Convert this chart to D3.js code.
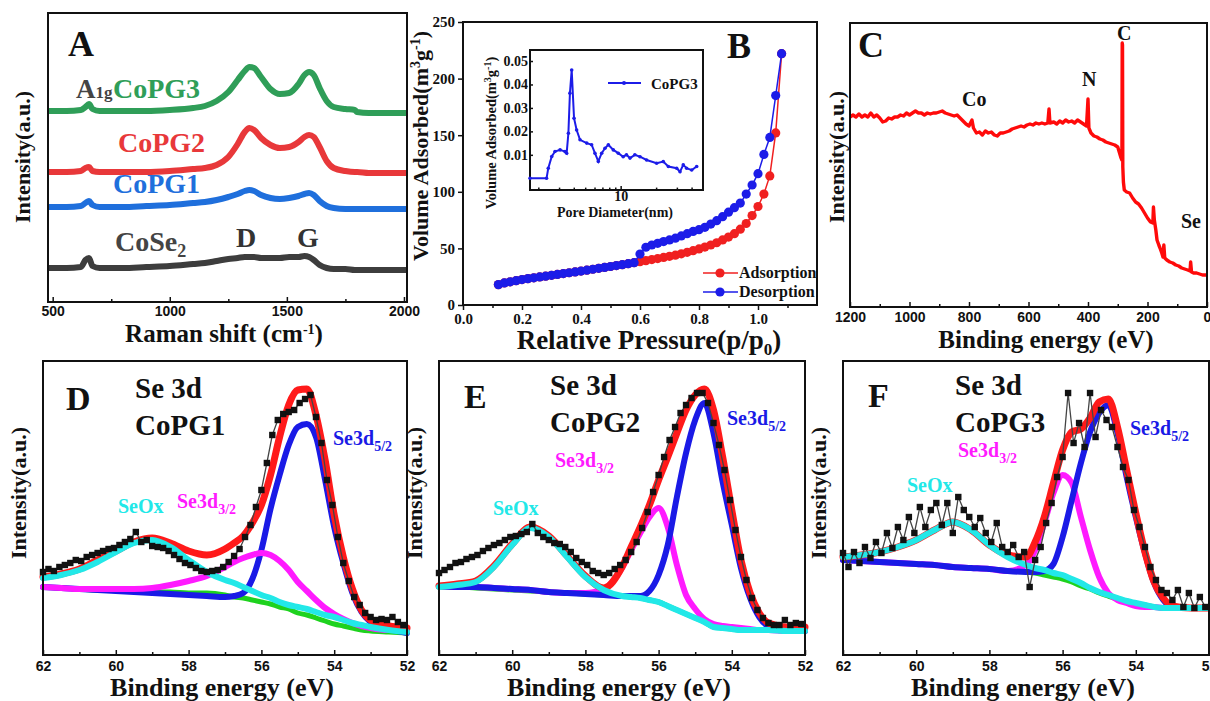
<!DOCTYPE html>
<html>
<head>
<meta charset="utf-8">
<script src="https://cdn.jsdelivr.net/npm/d3@7"></script>
<style>
  body { margin: 0; background: #fff; }
  svg { display: block; }
</style>
</head>
<body>
<script>
///// DATA /////

// A: Raman spectra (stacked, a.u.)
const ramanShift = [480, 560, 620, 640, 655, 670, 700, 800, 900, 1000, 1100, 1150, 1200, 1250, 1290, 1320, 1340, 1360, 1390, 1430, 1470, 1510, 1550, 1575, 1595, 1615, 1640, 1670, 1700, 1750, 1790, 1800, 1850, 1900, 2013]
const ramanCoPG3 = [191, 191, 192, 195, 198, 193, 191, 191, 191, 192, 194, 196, 201, 210, 222, 231, 235, 234, 225, 213, 208, 209, 218, 227, 230, 227, 214, 201, 195, 193, 192, 190, 189, 189, 189]
const ramanCoPG2 = [130, 130, 131, 134, 135, 131, 130, 130, 130, 131, 133, 134, 137, 145, 158, 170, 174, 172, 164, 157, 154, 155, 160, 165, 167, 165, 155, 141, 134, 131, 130, 130, 129, 129, 129]
const ramanCoPG1 = [95, 95, 96, 99, 101, 97, 95, 95, 96, 97, 99, 100, 102, 105, 108, 111, 112, 111, 107, 104, 103, 104, 106, 108, 109, 107, 101, 96, 94, 93, 93, 93, 93, 93, 93]
const ramanCoSe2 = [34, 34, 35, 42, 44, 36, 34, 34, 35, 36, 38, 39, 41, 43, 44, 45, 45, 45, 44, 44, 44, 45, 45, 46, 45, 42, 37, 34, 33, 33, 32, 32, 32, 32, 32]
const ramanTicks = [500, 1000, 1500, 2000]

// B: N2 isotherm + pore size distribution (inset)
const pressure = [0.12, 0.14, 0.16, 0.18, 0.20, 0.22, 0.24, 0.26, 0.28, 0.30, 0.32, 0.34, 0.36, 0.38, 0.40, 0.42, 0.44, 0.46, 0.48, 0.50, 0.52, 0.54, 0.56, 0.58, 0.60, 0.62, 0.64, 0.66, 0.68, 0.70, 0.72, 0.74, 0.76, 0.78, 0.80, 0.82, 0.84, 0.86, 0.88, 0.90, 0.92, 0.94, 0.96, 0.98, 1.00, 1.02, 1.04, 1.06, 1.08]
const adsorption = [18, 19.5, 20.5, 21.5, 22.5, 23.3, 24, 24.8, 25.5, 26.2, 27, 27.8, 28.5, 29.2, 30, 30.8, 31.6, 32.4, 33.2, 34, 34.8, 35.6, 36.5, 37.4, 38.3, 39.2, 40.1, 41, 42, 43, 44, 45.2, 46.5, 48, 49.5, 51.2, 53, 55, 57.5, 60, 63, 67, 72, 79, 87, 98, 114, 152, 222]
const desorption = [18, 19.5, 20.5, 21.5, 22.5, 23.3, 24, 24.8, 25.5, 26.2, 27, 27.8, 28.5, 29.2, 30, 30.8, 31.6, 32.4, 33.2, 34, 34.8, 35.6, 36.5, 37.4, 45, 51, 53, 54.5, 56, 57.5, 59, 61, 63, 65, 66.5, 68.6, 71.5, 74.5, 78, 82, 86, 90, 98, 106, 116, 133, 148, 185, 222]
const volumeTicks = [0, 50, 100, 150, 200, 250]
const pressureTicks = [0, 0.2, 0.4, 0.6, 0.8, 1.0]
const poreDiameter = [1.70, 2.35, 2.43, 2.60, 2.77, 3.06, 3.37, 3.48, 3.60, 3.71, 3.84, 4.02, 4.23, 4.52, 5.15, 5.67, 6.05, 6.46, 6.90, 7.36, 7.86, 8.66, 9.55, 10.5, 11.2, 12.0, 13.2, 14.6, 16.6, 20.2, 23.0, 25.4, 29.9, 31.9, 34.0, 36.3, 40.1, 44.2]
const poreVolume = [0, 0, 0.0043, 0.0093, 0.0114, 0.0121, 0.0114, 0.0107, 0.0192, 0.0363, 0.0462, 0.0256, 0.0206, 0.0164, 0.015, 0.0143, 0.0107, 0.0072, 0.0107, 0.0128, 0.0143, 0.0121, 0.0107, 0.0092, 0.01, 0.0086, 0.01, 0.0092, 0.0078, 0.0064, 0.0071, 0.005, 0.0043, 0.0028, 0.0057, 0.0043, 0.0035, 0.005]
const poreTicks = [0.01, 0.02, 0.03, 0.04, 0.05]

// C: XPS survey
const surveyBE = [1200, 1190, 1180, 1170, 1160, 1150, 1140, 1130, 1120, 1110, 1100, 1090, 1080, 1070, 1060, 1050, 1040, 1030, 1020, 1010, 1000, 990, 980, 970, 960, 950, 940, 930, 920, 910, 900, 890, 880, 870, 860, 850, 840, 830, 820, 810, 800, 790, 785, 775, 765, 755, 745, 735, 725, 715, 705, 695, 685, 675, 665, 655, 645, 635, 625, 615, 605, 595, 585, 575, 565, 555, 545, 535, 531, 528, 515, 505, 495, 485, 475, 465, 455, 445, 435, 425, 415, 405, 400, 397, 390, 380, 370, 360, 350, 340, 330, 320, 310, 300, 295, 290, 286, 285, 284, 283, 281, 278, 270, 260, 250, 240, 230, 220, 210, 200, 190, 182, 180, 177, 172, 168, 162, 158, 152, 148, 145, 142, 135, 125, 115, 105, 95, 85, 75, 65, 57, 55, 52, 45, 35, 25, 15, 5, 0]
const surveyCounts = [190, 192, 190, 193, 190, 192, 190, 194, 190, 192, 189, 185, 186, 189, 188, 190, 190, 192, 191, 194, 192, 194, 196, 194, 194, 192, 194, 193, 194, 194, 195, 196, 194, 193, 192, 191, 192, 189, 186, 183, 181, 187, 179, 174, 175, 172, 176, 174, 175, 172, 171, 174, 174, 175, 176, 178, 179, 180, 181, 180, 182, 183, 182, 184, 183, 184, 183, 184, 198, 184, 185, 183, 186, 184, 187, 185, 186, 184, 187, 185, 183, 181, 208, 179, 174, 171, 170, 168, 167, 165, 164, 163, 162, 160, 155, 150, 147, 264, 262, 140, 125, 117, 115, 114, 109, 105, 103, 99, 94, 89, 85, 84, 100, 87, 77, 67, 62, 59, 54, 50, 62, 49, 47, 45, 44, 42, 41, 39, 38, 37, 36, 45, 35, 34, 34, 33, 32, 32, 32]
const surveyTicks = [1200, 1000, 800, 600, 400, 200, 0]

// D-F: Se 3d high resolution spectra and fits
const fitBE = [62, 61.5, 61, 60.5, 60, 59.5, 59, 58.5, 58, 57.5, 57, 56.75, 56.5, 56.25, 56, 55.75, 55.5, 55.25, 55, 54.75, 54.5, 54.25, 54, 53.75, 53.5, 53.25, 53, 52.5, 52]
const dataBE = [62, 61.85, 61.7, 61.55, 61.4, 61.25, 61.1, 60.95, 60.8, 60.65, 60.5, 60.35, 60.2, 60.05, 59.9, 59.75, 59.6, 59.45, 59.3, 59.15, 59, 58.85, 58.7, 58.55, 58.4, 58.25, 58.1, 57.95, 57.8, 57.65, 57.5, 57.35, 57.2, 57.05, 56.9, 56.75, 56.6, 56.45, 56.3, 56.15, 56, 55.85, 55.7, 55.55, 55.4, 55.25, 55.1, 54.95, 54.8, 54.65, 54.5, 54.35, 54.2, 54.05, 53.9, 53.75, 53.6, 53.45, 53.3, 53.15, 53, 52.85, 52.7, 52.55, 52.4, 52.25, 52.1]
const beTicks = [62, 60, 58, 56, 54, 52]

const se3dCoPG1 = [83, 86, 84, 88, 90, 92, 95, 94, 98, 100, 102, 104, 106, 107, 110, 113, 116, 123, 113, 115, 109, 108, 107, 104, 100, 96, 92, 90, 87, 84, 83, 84, 85, 88, 93, 99, 106, 118, 130, 148, 165, 192, 220, 235, 241, 243, 245, 252, 256, 260, 238, 212, 175, 150, 118, 92, 74, 58, 50, 42, 38, 35, 36, 35, 38, 33, 30]
const bgCoPG1 = [68, 67, 66, 65, 65, 64, 63, 63, 62, 62, 60, 58, 57, 55, 53, 51, 48, 46, 42, 40, 37, 34, 31, 29, 27, 25, 24, 23, 22]
const d52CoPG1 = [68, 67, 66, 65, 64, 63, 62, 61, 60, 59, 58, 59, 62, 76, 105, 146, 180, 210, 228, 231, 218, 175, 128, 92, 62, 43, 33, 26, 22]
const d32CoPG1 = [68, 67, 66, 66, 66, 66, 67, 70, 74, 79, 88, 93, 97, 100, 102, 100, 94, 85, 73, 64, 55, 47, 41, 36, 32, 29, 27, 25, 25]
const seoxCoPG1 = [77, 80, 85, 93, 103, 112, 115, 108, 95, 83, 75, 72, 68, 64, 60, 57, 53, 50, 48, 46, 43, 40, 38, 35, 32, 30, 28, 25, 23]
const envCoPG1 = [78, 81, 86, 95, 104, 113, 117, 112, 104, 100, 106, 112, 119, 132, 150, 180, 218, 250, 265, 266, 240, 195, 140, 98, 66, 45, 35, 29, 27]

const se3dCoPG2 = [82, 85, 88, 92, 93, 96, 98, 100, 104, 107, 110, 112, 115, 118, 119, 121, 123, 131, 122, 118, 115, 112, 111, 108, 103, 97, 93, 90, 84, 82, 80, 82, 86, 90, 95, 103, 113, 127, 143, 163, 180, 198, 215, 228, 242, 250, 257, 262, 262, 252, 232, 210, 185, 155, 125, 98, 75, 57, 45, 37, 32, 30, 30, 35, 30, 32, 31]
const bgCoPG2 = [68, 68, 67, 66, 65, 64, 63, 62, 61, 60, 59, 58, 57, 55, 53, 49, 45, 41, 37, 33, 28, 27, 26, 25, 25, 25, 25, 24, 24]
const d52CoPG2 = [69, 68, 68, 67, 66, 65, 63, 62, 61, 60, 59, 59, 59, 64, 80, 110, 158, 202, 235, 252, 222, 173, 130, 87, 57, 38, 29, 25, 24]
const d32CoPG2 = [69, 68, 68, 67, 66, 65, 63, 62, 62, 66, 87, 105, 122, 138, 147, 128, 90, 60, 46, 36, 31, 29, 28, 27, 26, 25, 25, 24, 24]
const seoxCoPG2 = [68, 70, 73, 88, 110, 127, 118, 98, 78, 65, 59, 58, 57, 55, 53, 49, 45, 41, 37, 33, 28, 27, 26, 25, 25, 25, 25, 24, 24]
const envCoPG2 = [69, 71, 74, 89, 111, 128, 119, 99, 79, 67, 88, 108, 128, 150, 175, 198, 222, 245, 260, 266, 245, 198, 145, 95, 62, 42, 32, 28, 28]

const se3dCoPG3 = [102, 88, 103, 92, 108, 97, 113, 102, 122, 107, 128, 115, 138, 122, 148, 128, 145, 152, 130, 152, 122, 158, 145, 138, 128, 137, 122, 113, 132, 108, 103, 110, 98, 103, 68, 95, 108, 132, 152, 178, 198, 262, 212, 232, 208, 262, 218, 245, 235, 228, 208, 188, 175, 145, 128, 108, 88, 75, 65, 62, 55, 65, 48, 62, 47, 58, 48]
const bgCoPG3 = [95, 94, 93, 92, 91, 90, 88, 87, 86, 84, 83, 82, 80, 78, 76, 73, 69, 66, 62, 59, 56, 54, 51, 50, 48, 47, 47, 47, 47]
const d52CoPG3 = [95, 94, 93, 92, 91, 90, 88, 87, 86, 84, 83, 83, 84, 91, 118, 155, 192, 223, 242, 250, 222, 178, 138, 102, 72, 55, 48, 47, 47]
const d32CoPG3 = [95, 94, 93, 92, 91, 90, 88, 87, 86, 84, 90, 105, 132, 162, 180, 172, 138, 105, 78, 62, 55, 52, 49, 48, 48, 47, 47, 47, 47]
const seoxCoPG3 = [98, 100, 103, 108, 115, 125, 133, 125, 110, 98, 90, 87, 85, 82, 80, 76, 72, 67, 63, 60, 57, 54, 52, 50, 48, 47, 47, 47, 47]
const envCoPG3 = [98, 100, 103, 108, 115, 125, 133, 125, 110, 100, 98, 113, 138, 172, 205, 223, 226, 237, 253, 256, 228, 185, 142, 103, 73, 57, 49, 47, 47]

///// HELPERS /////

const SERIF = "'Liberation Serif', 'Times New Roman', serif"
const SANS = "'Liberation Sans', Arial, sans-serif"
const INK = "#111"

const svg = d3.select("body").append("svg").attr("width", 1210).attr("height", 701)

// text made of plain strings and {t, size, dy} pieces (sub/superscripts)
function words(g, x, y, size, color, pieces, anchor = "start", rotate = false) {
  const t = g.append("text")
    .attr("font-family", SERIF).attr("font-weight", "bold")
    .attr("font-size", size).attr("fill", color).attr("text-anchor", anchor)
  if (rotate) t.attr("transform", `translate(${x},${y}) rotate(-90)`)
  else t.attr("x", x).attr("y", y)
  for (const p of pieces) {
    if (typeof p === "string") { t.append("tspan").text(p); continue }
    const s = t.append("tspan").text(p.t)
    if (p.size) s.attr("font-size", p.size)
    if (p.dy) s.attr("dy", p.dy)
  }
  return t
}

function frame(g, x0, y0, x1, y1, fill = "none") {
  g.append("rect").attr("x", x0).attr("y", y0).attr("width", x1 - x0).attr("height", y1 - y0)
    .attr("fill", fill).attr("stroke", INK).attr("stroke-width", 2)
}

function styleAxis(ax, size, family) {
  ax.select(".domain").remove()
  ax.selectAll(".tick line").attr("stroke", INK).attr("stroke-width", 1.5)
  ax.selectAll(".tick text").attr("fill", INK).attr("font-family", family)
    .attr("font-weight", "bold").attr("font-size", size)
  return ax
}

// major ticks with labels + minor ticks, inward (negative size) or outward
function xAxis(g, scale, y, major, minor, {size = 14, family = SANS, fmt = d3.format("d"), tick = -5, pad = 8} = {}) {
  styleAxis(g.append("g").attr("transform", `translate(0,${y})`)
    .call(d3.axisBottom(scale).tickValues(major).tickFormat(fmt).tickSizeInner(tick).tickSizeOuter(0).tickPadding(pad)), size, family)
  if (minor) {
    styleAxis(g.append("g").attr("transform", `translate(0,${y})`)
      .call(d3.axisBottom(scale).tickValues(minor).tickFormat("").tickSizeInner(tick * 0.6).tickSizeOuter(0)), size, family)
  }
}

///// A: RAMAN /////

const gA = svg.append("g")
const xA = d3.scaleLinear().domain([480, 2013]).range([48, 407])
const yA = d3.scaleLinear().domain([0, 289]).range([302, 13])
const lineA = d3.line().x((d, i) => xA(ramanShift[i])).y(d => yA(d)).curve(d3.curveMonotoneX)

gA.selectAll("path.raman")
  .data([[ramanCoSe2, "#3d3d3d"], [ramanCoPG1, "#1f6fdc"], [ramanCoPG2, "#e8383a"], [ramanCoPG3, "#2f9e58"]])
  .join("path")
    .attr("class", "raman")
    .attr("d", d => lineA(d[0]))
    .attr("fill", "none")
    .attr("stroke", d => d[1])
    .attr("stroke-width", 6)
    .attr("stroke-linejoin", "round")

xAxis(gA, xA, 302, ramanTicks, [750, 1250, 1750], {pad: 4})
frame(gA, 48, 13, 407, 302)

words(gA, 68, 56, 36, INK, ["A"])
words(gA, 76, 98, 27, "#444", ["A", {t: "1g", size: 17}])
words(gA, 113, 98, 28, "#2f9e58", ["CoPG3"])
words(gA, 118, 152, 28, "#e8383a", ["CoPG2"])
words(gA, 113, 193, 28, "#1f6fdc", ["CoPG1"])
words(gA, 115, 251, 28, "#444", ["CoSe", {t: "2", size: 18, dy: 6}])
words(gA, 236, 247, 28, "#333", ["D"])
words(gA, 297, 247, 28, "#333", ["G"])
words(gA, 224, 342, 25, INK, ["Raman shift (cm", {t: "-1", size: 14, dy: -8}, {t: ")", dy: 8}], "middle")
words(gA, 30, 157, 22, INK, ["Intensity(a.u.)"], "middle", true)

///// B: ISOTHERM /////

const gB = svg.append("g")
const xB = d3.scaleLinear().domain([0, 1.2]).range([463, 817])
const yB = d3.scaleLinear().domain([0, 250]).range([305, 22])

const isotherms = [
  {v: adsorption, color: "#f02020", name: "Adsorption"},
  {v: desorption, color: "#1c1ce8", name: "Desorption"},
]
for (const s of isotherms) {
  const pts = d3.zip(pressure, s.v)
  gB.append("path")
    .attr("d", d3.line().x(d => xB(d[0])).y(d => yB(d[1]))(pts))
    .attr("fill", "none").attr("stroke", s.color).attr("stroke-width", 1.5)
  gB.append("g").selectAll("circle").data(pts).join("circle")
    .attr("cx", d => xB(d[0])).attr("cy", d => yB(d[1])).attr("r", 4.6)
    .attr("fill", s.color)
}

xAxis(gB, xB, 305, pressureTicks, [0.1, 0.3, 0.5, 0.7, 0.9, 1.1],
  {size: 15, family: SERIF, fmt: d3.format(".1f"), tick: 5, pad: 3})
styleAxis(gB.append("g").attr("transform", "translate(463,0)")
  .call(d3.axisLeft(yB).tickValues(volumeTicks).tickSizeInner(5).tickSizeOuter(0).tickPadding(3)), 15, SERIF)
frame(gB, 463, 22, 817, 305)

words(gB, 727, 58, 36, INK, ["B"])
words(gB, 649, 349, 27, INK, ["Relative Pressure(p/p", {t: "0", size: 17, dy: 6}, {t: ")", dy: -6}], "middle")
words(gB, 428, 146, 22, INK, ["Volume Adsorbed(m", {t: "3", size: 14, dy: -8}, {t: "g", dy: 8}, {t: "-1", size: 14, dy: -8}, {t: ")", dy: 8}], "middle", true)

// legend
isotherms.forEach((s, i) => {
  const ly = 273 + i * 19
  gB.append("line").attr("x1", 703).attr("x2", 738).attr("y1", ly).attr("y2", ly)
    .attr("stroke", s.color).attr("stroke-width", 1.5)
  gB.append("circle").attr("cx", 720).attr("cy", ly).attr("r", 4.6).attr("fill", s.color)
  words(gB, 739, ly + 5, 16, INK, [s.name])
})

// inset: pore size distribution
const gI = gB.append("g")
const xI = d3.scaleLog().domain([1.7, 50]).range([530, 703])
const yI = d3.scaleLinear().domain([-0.005, 0.0547]).range([190, 50])
frame(gI, 530, 50, 703, 190, "#fff")
const porePts = d3.zip(poreDiameter, poreVolume)
gI.append("path")
  .attr("d", d3.line().x(d => xI(d[0])).y(d => yI(d[1]))(porePts))
  .attr("fill", "none").attr("stroke", "#1c1ce8").attr("stroke-width", 2)
gI.append("g").selectAll("circle").data(porePts).join("circle")
  .attr("cx", d => xI(d[0])).attr("cy", d => yI(d[1])).attr("r", 1.8).attr("fill", "#1c1ce8")
xAxis(gI, xI, 190, [10], [2, 3, 4, 5, 6, 7, 8, 9, 20, 30, 40], {size: 14, family: SERIF, tick: -4, pad: 1})
styleAxis(gI.append("g").attr("transform", "translate(530,0)")
  .call(d3.axisLeft(yI).tickValues(poreTicks).tickFormat(d3.format(".2f")).tickSizeInner(-3).tickSizeOuter(0).tickPadding(2)), 14, SERIF)
gI.append("line").attr("x1", 608).attr("x2", 641).attr("y1", 83).attr("y2", 83)
  .attr("stroke", "#1c1ce8").attr("stroke-width", 2)
gI.append("circle").attr("cx", 624).attr("cy", 83).attr("r", 2).attr("fill", "#1c1ce8")
words(gI, 651, 89, 15, INK, ["CoPG3"])
words(gI, 615, 217, 14, INK, ["Pore Diameter(nm)"], "middle")
words(gI, 496, 133, 14.5, INK, ["Volume Adsorbed(m", {t: "3", size: 10, dy: -5}, {t: "g", dy: 5}, {t: "-1", size: 10, dy: -5}, {t: ")", dy: 5}], "middle", true)

///// C: SURVEY /////

const gC = svg.append("g")
const xC = d3.scaleLinear().domain([1200, 0]).range([850, 1207])
const yC = d3.scaleLinear().domain([0, 284]).range([307, 23])
gC.append("path")
  .attr("d", d3.line().x((d, i) => xC(surveyBE[i])).y(d => yC(d))(surveyCounts))
  .attr("fill", "none").attr("stroke", "#ff0a0a").attr("stroke-width", 3.4).attr("stroke-linejoin", "round")
xAxis(gC, xC, 307, surveyTicks, [1100, 900, 700, 500, 300, 100], {pad: 5})
frame(gC, 850, 23, 1207, 307)
words(gC, 858, 57, 36, INK, ["C"])
words(gC, 962, 106, 20, INK, ["Co"])
words(gC, 1082, 86, 20, INK, ["N"])
words(gC, 1117, 40, 20, INK, ["C"])
words(gC, 1181, 228, 20, INK, ["Se"])
words(gC, 1046, 348, 25, INK, ["Binding energy (eV)"], "middle")
words(gC, 844, 157, 22, INK, ["Intensity(a.u.)"], "middle", true)

///// D-F: Se 3d /////

const xpsPanels = [
  {letter: "D", sample: "CoPG1", left: 43, right: 407, data: se3dCoPG1, bg: bgCoPG1, d52: d52CoPG1, d32: d32CoPG1, seox: seoxCoPG1, env: envCoPG1,
   magentaOnTop: true,
   pos: {letter: [66, 410], se: [135, 398], seox: [118, 513], d32: [177, 508], d52: [333, 445]}},
  {letter: "E", sample: "CoPG2", left: 439, right: 805, data: se3dCoPG2, bg: bgCoPG2, d52: d52CoPG2, d32: d32CoPG2, seox: seoxCoPG2, env: envCoPG2,
   magentaOnTop: false,
   pos: {letter: [464, 408], se: [550, 395], seox: [493, 515], d32: [555, 467], d52: [727, 425]}},
  {letter: "F", sample: "CoPG3", left: 843, right: 1209, data: se3dCoPG3, bg: bgCoPG3, d52: d52CoPG3, d32: d32CoPG3, seox: seoxCoPG3, env: envCoPG3,
   magentaOnTop: false,
   pos: {letter: [868, 407], se: [955, 395], seox: [907, 492], d32: [958, 457], d52: [1130, 435]}},
]

const TOP = 361, BOTTOM = 655
const C52 = "#1a1ae6", C32 = "#ff1aff", COX = "#22e8e8", CENV = "#ff1a1a"
for (const p of xpsPanels) {
  const g = svg.append("g")
  const x = d3.scaleLinear().domain([62, 52]).range([p.left, p.right])
  const y = d3.scaleLinear().domain([0, 294]).range([BOTTOM, TOP])
  const fitLine = d3.line().x((d, i) => x(fitBE[i])).y(d => y(d)).curve(d3.curveMonotoneX)

  // drawing order matters: which component hides which on the shared baseline
  const comps = p.magentaOnTop
    ? [[p.d52, C52, 6], [p.d32, C32, 6]]
    : [[p.d32, C32, 6], [p.d52, C52, 6]]
  const fits = [[p.bg, "#1ed21e", 5], ...comps, [p.env, CENV, 7], [p.seox, COX, 6]]

  g.selectAll("path.fit").data(fits).join("path")
    .attr("class", "fit")
    .attr("d", d => fitLine(d[0]))
    .attr("fill", "none").attr("stroke", d => d[1]).attr("stroke-width", d => d[2])
    .attr("stroke-linejoin", "round").attr("stroke-linecap", "round")

  const pts = d3.zip(dataBE, p.data)
  g.append("path")
    .attr("d", d3.line().x(d => x(d[0])).y(d => y(d[1]))(pts))
    .attr("fill", "none").attr("stroke", "#444").attr("stroke-width", 1.3)
  g.append("g").selectAll("rect").data(pts).join("rect")
    .attr("x", d => x(d[0]) - 3.2).attr("y", d => y(d[1]) - 3.2)
    .attr("width", 6.4).attr("height", 6.4).attr("fill", "#111")

  xAxis(g, x, BOTTOM, beTicks, [61, 59, 57, 55, 53], {pad: 6})
  frame(g, p.left, TOP, p.right, BOTTOM)

  const c = (p.left + p.right) / 2
  words(g, p.pos.letter[0], p.pos.letter[1], 34, INK, [p.letter])
  words(g, p.pos.se[0], p.pos.se[1], 29, INK, ["Se 3d"])
  words(g, p.pos.se[0], p.pos.se[1] + 37, 29, INK, [p.sample])
  words(g, p.pos.seox[0], p.pos.seox[1], 20, COX, ["SeOx"])
  words(g, p.pos.d32[0], p.pos.d32[1], 20, C32, ["Se3d", {t: "3/2", size: 14, dy: 6}])
  words(g, p.pos.d52[0], p.pos.d52[1], 20, C52, ["Se3d", {t: "5/2", size: 14, dy: 6}])
  words(g, c - 3, 696, 26, INK, ["Binding energy (eV)"], "middle")
  words(g, p.left - 17, 493, 22, INK, ["Intensity(a.u.)"], "middle", true)
}
</script>
</body>
</html>
